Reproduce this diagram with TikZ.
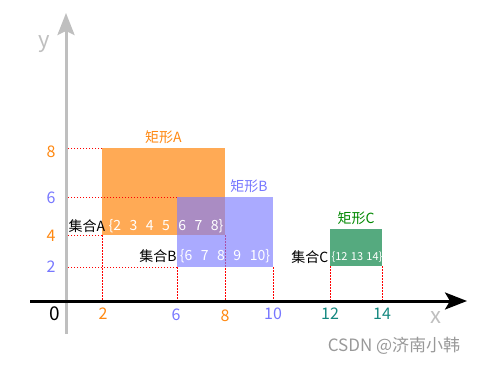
\documentclass[tikz,border=0pt]{standalone}
\usepackage{fontspec}
\setmainfont{Noto Sans CJK SC}
\usetikzlibrary{calc}
\usetikzlibrary{positioning}
\usetikzlibrary{arrows.meta}

\definecolor{rectA}{RGB}{255,170,85}
\definecolor{rectB}{RGB}{125,125,255}
\definecolor{rectC}{RGB}{85,170,127}
\definecolor{labA}{RGB}{255,136,17}
\definecolor{labB}{RGB}{119,119,255}
\definecolor{labC}{RGB}{0,136,0}
\definecolor{tickC}{RGB}{20,136,128}

\newcommand\wideset{\spaceskip 8.5pt\relax}
\newcommand\narrowset{\spaceskip 3.3pt\relax}

\tikzset{
  guide/.style={red,line width=0.8pt,dash pattern=on 1.5pt off 1.5pt},
  tick/.style={font=\fontsize{16}{16}\selectfont},
  title/.style={font=\fontsize{14}{14}\selectfont},
  setname/.style={font=\fontsize{14}{14}\selectfont,text=black},
  setbody/.style={font=\fontsize{14}{14}\selectfont\wideset,text=white},
}

\begin{document}
\begin{tikzpicture}[x=1pt,y=-1pt,every node/.style={inner sep=0pt}]
\useasboundingbox (0,0) rectangle (478,364);

\coordinate (o) at (66,301);
\coordinate (a1) at (102,148);
\coordinate (a2) at (225,235);
\coordinate (b1) at (177,197);
\coordinate (b2) at (273,267);
\coordinate (c1) at (330,229);
\coordinate (c2) at (382,266);

\fill[rectA] (a1) rectangle (a2);

\draw[guide] (a1) -- (a1 -| o);
\draw[guide] (b1) -- (b1 -| o);
\draw[guide] (a1 |- a2) -- (o |- a2);
\draw[guide] (b1 |- b2) -- (o |- b2);
\draw[guide] (a1 |- a2) -- (a1 |- o);
\draw[guide] (b1 |- b2) -- (b1 |- o);
\draw[guide] (a2) -- (a2 |- o);
\draw[guide] (b2) -- (b2 |- o);
\draw[guide] (c1 |- c2) -- (c1 |- o);
\draw[guide] (c2) -- (c2 |- o);

\fill[rectB,opacity=0.65] (b1) rectangle (b2);
\fill[rectC] (c1) rectangle (c2);

\draw[gray!50,line width=3pt,-{Stealth[length=22pt,width=17pt,inset=4pt]}] (66,334) -- (66,13);
\draw[line width=3pt,-{Stealth[length=22pt,width=17pt,inset=5pt]}] (30,301) -- (467,301);

\coordinate (atop) at ($(a1)!0.5!(a1 -| a2)$);
\coordinate (btop) at ($(a2 |- b1)!0.5!(b1 -| b2)$);
\coordinate (ctop) at ($(c1)!0.5!(c1 -| c2)$);
\node[title,text=labA,above=4pt of atop] (titleA) {矩形A};
\node[title,text=labB,above=4pt of btop] (titleB) {矩形B};
\node[title,text=labC,above=4pt of ctop] (titleC) {矩形C};

\node[setbody] (setA) at (166,226) {\{2 3 4 5 6 7 8\}};
\node[setname,left=3pt of setA] (nameA) {集合A};
\node[setbody] (setB) at (225,256) {\{6 7 8 9 10\}};
\node[setname,left=3pt of setB] (nameB) {集合B};
\node[setbody,font=\fontsize{11}{11}\selectfont\narrowset] (setC) at (357,257) {\{12 13 14\}};
\node[setname,left=3pt of setC] (nameC) {集合C};

\node[tick,text=labA] (y8) at (51,152) {8};
\node[tick,text=labB] (y6) at (51,198) {6};
\node[tick,text=labA] (y4) at (51,236) {4};
\node[tick,text=labB] (y2) at (51,267) {2};

\node[tick,font=\fontsize{19}{19}\selectfont] (zero) at (55,314) {0};
\node[tick,text=labA] (x2) at (103,314) {2};
\node[tick,text=labB] (x6) at (176,315) {6};
\node[tick,text=labA] (x8) at (225,316) {8};
\node[tick,text=labB] (x10) at (273,314) {10};
\node[tick,text=tickC] (x12) at (330,314) {12};
\node[tick,text=tickC] (x14) at (382,314) {14};

\node[text=gray!50,font=\fontsize{22}{22}\selectfont] (ylab) at (44,44) {y};
\node[text=gray!50,font=\fontsize{22}{22}\selectfont] (xlab) at (436,318) {x};

\node[text=black!40,font=\fontsize{17}{17}\selectfont] (mark) at (394,346) {CSDN @济南小韩};
\end{tikzpicture}
\end{document}
